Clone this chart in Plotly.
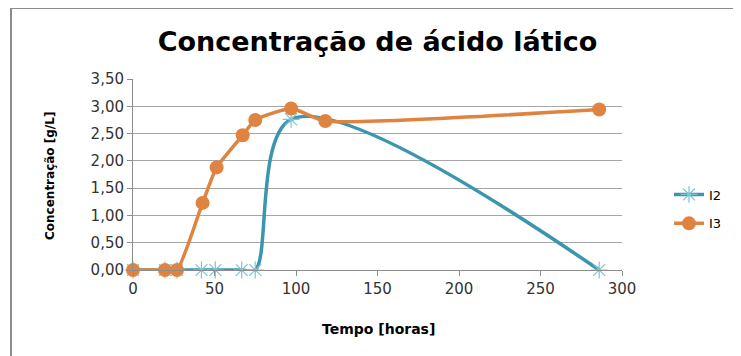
import plotly.graph_objects as go

# Data
tempo_I2 = [0, 19.6, 27, 42, 50.5, 66.7, 75, 97, 286]
conc_I2 = [0, 0, 0, 0, 0, 0, 0, 2.76, 0]
tempo_I3 = [0, 19.6, 27, 42.7, 51.3, 67.3, 75, 97, 118, 286]
conc_I3 = [0, 0, 0, 1.23, 1.88, 2.47, 2.75, 2.96, 2.73, 2.94]
x_ticks = [0, 50, 100, 150, 200, 250, 300]
y_ticks = [0, 0.5, 1.0, 1.5, 2.0, 2.5, 3.0, 3.5]

C_I2 = "#3A96AF"
C_I2_MARK = "#7FC3D6"
C_I3 = "#DE8440"
FONT = "DejaVu Sans"

fig = go.Figure()
fig.add_trace(go.Scatter(
    x=tempo_I2, y=conc_I2, name="I2", mode="lines+markers", legendgroup="a",
    line=dict(color=C_I2, width=3.5, shape="spline", smoothing=1.0),
    marker=dict(symbol="asterisk-open", size=14, color=C_I2_MARK,
                line=dict(color=C_I2_MARK, width=1.2)),
    cliponaxis=False,
))
fig.add_trace(go.Scatter(
    x=tempo_I3, y=conc_I3, name="I3", mode="lines+markers", legendgroup="b",
    line=dict(color=C_I3, width=3.5, shape="spline", smoothing=0.5),
    marker=dict(symbol="circle", size=14, color=C_I3),
    cliponaxis=False,
))

# page has an 8px body offset; plot area in screen pixels: x 133..622, y 79..270
OFF = 8
W, H = 741 - OFF, 356 - OFF
L, R, T, B = 133 - OFF, 741 - 622, 79 - OFF, 356 - 270
pw = 622 - 133
ph = 270 - 79

def sx(p):
    return (p - 133) / pw

def sy(p):
    return (270 - p) / ph

fig.update_layout(
    width=W, height=H,
    margin=dict(l=L, r=R, t=T, b=B, autoexpand=False),
    paper_bgcolor="white", plot_bgcolor="white",
    separators=",.",
    font=dict(family=FONT, size=15, color="#333333"),
    title=dict(text="<b>Concentração de ácido lático</b>", x=0.5, xref="paper",
               y=1 - (42 - OFF) / H, yref="container", xanchor="center", yanchor="middle",
               font=dict(family=FONT, size=27, color="black")),
    xaxis=dict(range=[0, 300], tickvals=x_ticks, showgrid=False,
               showline=True, linecolor="#8C8C8C", linewidth=1,
               ticks="outside", ticklen=5, tickcolor="#8C8C8C",
               zeroline=False, tickfont=dict(size=15, color="#333333")),
    yaxis=dict(range=[0, 3.5], tickvals=y_ticks, tickformat=".2f",
               showgrid=True, gridcolor="#A6A6A6", gridwidth=1,
               showline=True, linecolor="#8C8C8C", linewidth=1,
               ticks="outside", ticklen=5, tickcolor="#8C8C8C",
               zeroline=False, tickfont=dict(size=15, color="#333333")),
    legend=dict(x=sx(669), y=sy(209), xanchor="left", yanchor="middle",
                font=dict(size=13, color="black"), bgcolor="rgba(0,0,0,0)",
                traceorder="grouped", tracegroupgap=9),
    showlegend=True,
)

fig.add_annotation(text="<b>Tempo [horas]</b>", xref="paper", yref="paper",
                   x=sx(378), y=sy(329), showarrow=False,
                   font=dict(size=14, color="black"), xanchor="center", yanchor="middle")
fig.add_annotation(text="<b>Concentração [g/L]</b>", xref="paper", yref="paper",
                   x=sx(50), y=sy(176), showarrow=False, textangle=-90,
                   font=dict(size=12, color="black"), xanchor="center", yanchor="middle")

fig.add_shape(type="rect", xref="paper", yref="paper",
              x0=sx(11), x1=sx(745), y0=sy(400), y1=sy(8),
              line=dict(color="#8C8C8C", width=2), fillcolor="rgba(0,0,0,0)", layer="below")

fig.write_html("out.html")
